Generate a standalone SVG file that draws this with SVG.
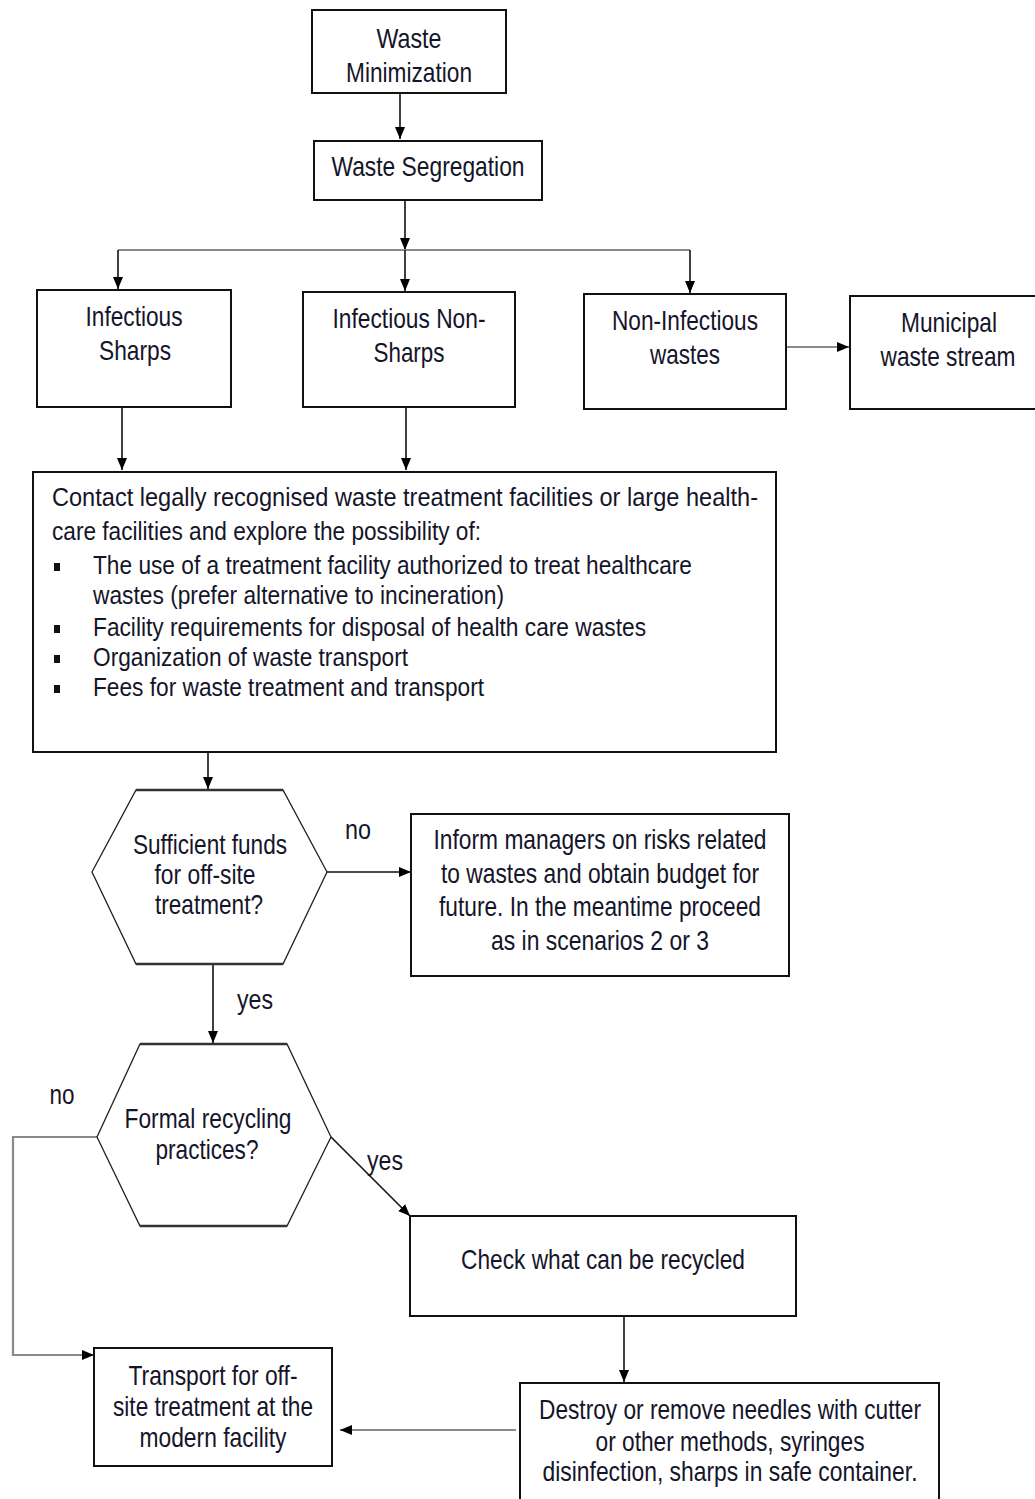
<svg xmlns="http://www.w3.org/2000/svg" width="1035" height="1499" viewBox="0 0 1035 1499">
  <style>
    .box { fill: #ffffff; stroke: #111111; stroke-width: 2; }
    .hex { fill: #ffffff; stroke: #222222; stroke-width: 1.3; }
    .hexcap { fill: none; stroke: #333333; stroke-width: 2.5; }
    .t { font-family: "Liberation Sans", Arial, sans-serif; font-size: 28px; fill: #15152a; text-anchor: middle; }
    .l { text-anchor: start; font-size: 25.5px; }
    .ln { fill: none; stroke: #111111; stroke-width: 1.6; }
    .gy { fill: none; stroke: #8a8a8a; stroke-width: 2.2; }
  </style>
  <defs>
    <marker id="ah" markerUnits="userSpaceOnUse" markerWidth="12" markerHeight="12" refX="12" refY="5" orient="auto">
      <path d="M0,0 L12,5 L0,10 z" fill="#000000"/>
    </marker>
  </defs>

  <rect width="1035" height="1499" fill="#ffffff"/>

  <!-- connectors -->
  <g id="connectors">
    <path class="ln" d="M400,93 V139" marker-end="url(#ah)"/>
    <path class="ln" d="M405,200 V250" marker-end="url(#ah)"/>
    <path class="gy" d="M118,250 H690"/>
    <path class="ln" d="M118,250 V289" marker-end="url(#ah)"/>
    <path class="ln" d="M405,250 V291" marker-end="url(#ah)"/>
    <path class="ln" d="M690,250 V293" marker-end="url(#ah)"/>
    <path class="gy" d="M786,347 H849" marker-end="url(#ah)"/>
    <path class="ln" d="M122,407 V470" marker-end="url(#ah)"/>
    <path class="ln" d="M406,407 V470" marker-end="url(#ah)"/>
    <path class="ln" d="M208,752 V789" marker-end="url(#ah)"/>
    <path class="ln" d="M327,872 H411" marker-end="url(#ah)"/>
    <path class="ln" d="M213,964 V1043" marker-end="url(#ah)"/>
    <path class="ln" d="M331,1137 L410,1216" marker-end="url(#ah)"/>
    <path class="gy" d="M97,1137 H13 V1355 H94" marker-end="url(#ah)"/>
    <path class="ln" d="M624,1316 V1382" marker-end="url(#ah)"/>
    <path class="gy" d="M516,1430 H340" marker-end="url(#ah)"/>
    <text class="t" x="358" y="839" textLength="26" lengthAdjust="spacingAndGlyphs">no</text>
    <text class="t" x="255" y="1009" textLength="36" lengthAdjust="spacingAndGlyphs">yes</text>
    <text class="t" x="62" y="1104" textLength="25" lengthAdjust="spacingAndGlyphs">no</text>
    <text class="t" x="385" y="1170" textLength="36" lengthAdjust="spacingAndGlyphs">yes</text>
  </g>

  <g id="waste-minimization">
    <rect class="box" x="312" y="10" width="194" height="83"/>
    <text class="t" x="409" y="48" textLength="65" lengthAdjust="spacingAndGlyphs">Waste</text>
    <text class="t" x="409" y="82" textLength="126" lengthAdjust="spacingAndGlyphs">Minimization</text>
  </g>

  <g id="waste-segregation">
    <rect class="box" x="314" y="141" width="228" height="59"/>
    <text class="t" x="428" y="176" textLength="193" lengthAdjust="spacingAndGlyphs">Waste Segregation</text>
  </g>

  <g id="infectious-sharps">
    <rect class="box" x="37" y="290" width="194" height="117"/>
    <text class="t" x="134" y="326" textLength="97" lengthAdjust="spacingAndGlyphs">Infectious</text>
    <text class="t" x="135" y="360" textLength="72" lengthAdjust="spacingAndGlyphs">Sharps</text>
  </g>

  <g id="infectious-non-sharps">
    <rect class="box" x="303" y="292" width="212" height="115"/>
    <text class="t" x="409" y="328" textLength="153" lengthAdjust="spacingAndGlyphs">Infectious Non-</text>
    <text class="t" x="409" y="362" textLength="71" lengthAdjust="spacingAndGlyphs">Sharps</text>
  </g>

  <g id="non-infectious">
    <rect class="box" x="584" y="294" width="202" height="115"/>
    <text class="t" x="685" y="330" textLength="146" lengthAdjust="spacingAndGlyphs">Non-Infectious</text>
    <text class="t" x="685" y="364" textLength="70" lengthAdjust="spacingAndGlyphs">wastes</text>
  </g>

  <g id="municipal">
    <rect class="box" x="850" y="296" width="190" height="113"/>
    <text class="t" x="949" y="332" textLength="96" lengthAdjust="spacingAndGlyphs">Municipal</text>
    <text class="t" x="948" y="366" textLength="135" lengthAdjust="spacingAndGlyphs">waste stream</text>
  </g>

  <g id="contact-facilities">
    <rect class="box" x="33" y="472" width="743" height="280"/>
    <text class="t l" x="52" y="506" textLength="706" lengthAdjust="spacingAndGlyphs">Contact legally recognised waste treatment facilities or large health-</text>
    <text class="t l" x="52" y="540" textLength="429" lengthAdjust="spacingAndGlyphs">care facilities and explore the possibility of:</text>
    <rect x="54" y="563" width="6" height="8" fill="#111111"/>
    <text class="t l" x="93" y="574" textLength="599" lengthAdjust="spacingAndGlyphs">The use of a treatment facility authorized to treat healthcare</text>
    <text class="t l" x="93" y="604" textLength="411" lengthAdjust="spacingAndGlyphs">wastes (prefer alternative to incineration)</text>
    <rect x="54" y="625" width="6" height="8" fill="#111111"/>
    <text class="t l" x="93" y="636" textLength="553" lengthAdjust="spacingAndGlyphs">Facility requirements for disposal of health care wastes</text>
    <rect x="54" y="655" width="6" height="8" fill="#111111"/>
    <text class="t l" x="93" y="666" textLength="315" lengthAdjust="spacingAndGlyphs">Organization of waste transport</text>
    <rect x="54" y="685" width="6" height="8" fill="#111111"/>
    <text class="t l" x="93" y="696" textLength="391" lengthAdjust="spacingAndGlyphs">Fees for waste treatment and transport</text>
  </g>

  <g id="funds-decision">
    <polygon class="hex" points="136,790 283,790 327,872 283,964 136,964 92,872"/>
    <path class="hexcap" d="M136,790 H283 M136,964 H283"/>
    <text class="t" x="210" y="854" textLength="154" lengthAdjust="spacingAndGlyphs">Sufficient funds</text>
    <text class="t" x="205" y="884" textLength="101" lengthAdjust="spacingAndGlyphs">for off-site</text>
    <text class="t" x="209" y="914" textLength="108" lengthAdjust="spacingAndGlyphs">treatment?</text>
  </g>

  <g id="inform-managers">
    <rect class="box" x="411" y="814" width="378" height="162"/>
    <text class="t" x="600" y="849" textLength="333" lengthAdjust="spacingAndGlyphs">Inform managers on risks related</text>
    <text class="t" x="600" y="883" textLength="318" lengthAdjust="spacingAndGlyphs">to wastes and obtain budget for</text>
    <text class="t" x="600" y="916" textLength="322" lengthAdjust="spacingAndGlyphs">future. In the meantime proceed</text>
    <text class="t" x="600" y="950" textLength="218" lengthAdjust="spacingAndGlyphs">as in scenarios 2 or 3</text>
  </g>

  <g id="recycling-decision">
    <polygon class="hex" points="140,1044 287,1044 331,1137 287,1226 140,1226 97,1137"/>
    <path class="hexcap" d="M140,1044 H287 M140,1226 H287"/>
    <text class="t" x="208" y="1128" textLength="167" lengthAdjust="spacingAndGlyphs">Formal recycling</text>
    <text class="t" x="207" y="1159" textLength="103" lengthAdjust="spacingAndGlyphs">practices?</text>
  </g>

  <g id="check-recycled">
    <rect class="box" x="410" y="1216" width="386" height="100"/>
    <text class="t" x="603" y="1269" textLength="284" lengthAdjust="spacingAndGlyphs">Check what can be recycled</text>
  </g>

  <g id="destroy-needles">
    <rect class="box" x="520" y="1383" width="419" height="125"/>
    <text class="t" x="730" y="1419" textLength="382" lengthAdjust="spacingAndGlyphs">Destroy or remove needles with cutter</text>
    <text class="t" x="730" y="1451" textLength="269" lengthAdjust="spacingAndGlyphs">or other methods, syringes</text>
    <text class="t" x="730" y="1481" textLength="375" lengthAdjust="spacingAndGlyphs">disinfection, sharps in safe container.</text>
  </g>

  <g id="transport-offsite">
    <rect class="box" x="94" y="1348" width="238" height="118"/>
    <text class="t" x="213" y="1385" textLength="169" lengthAdjust="spacingAndGlyphs">Transport for off-</text>
    <text class="t" x="213" y="1416" textLength="200" lengthAdjust="spacingAndGlyphs">site treatment at the</text>
    <text class="t" x="213" y="1447" textLength="147" lengthAdjust="spacingAndGlyphs">modern facility</text>
  </g>
</svg>
